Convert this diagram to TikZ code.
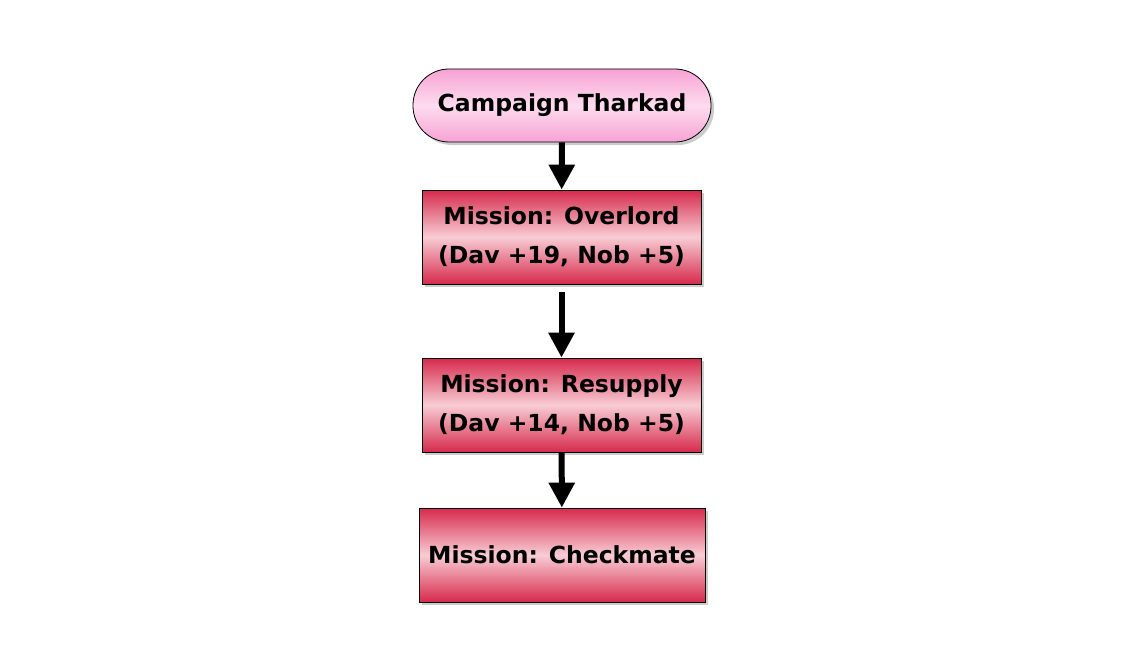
\documentclass[tikz,border=0pt]{standalone}
\usepackage{fontspec}
\setmainfont{DejaVu Sans}
\usetikzlibrary{arrows.meta,shadows}
\definecolor{boxdark}{HTML}{D62A4C}
\definecolor{boxlight}{HTML}{F8CCD4}
\definecolor{pinkdark}{HTML}{F7A2D4}
\definecolor{pinklight}{HTML}{FDDCEE}
\tikzset{
  txt/.style={font=\fontsize{23.5}{39}\selectfont\bfseries, align=center, text=black},
  missionbox/.style={txt, draw=black, line width=0.8pt, rectangle, minimum height=94pt, inner sep=2pt,
    top color=boxdark, bottom color=boxdark, middle color=boxlight,
    drop shadow={shadow xshift=3pt, shadow yshift=-3pt, opacity=0.2, fill=black}},
  termbox/.style={txt, draw=black, line width=0.8pt, rounded corners=36pt, minimum height=73pt, minimum width=298pt, inner sep=2pt,
    top color=pinkdark, bottom color=pinkdark, middle color=pinklight,
    drop shadow={shadow xshift=3pt, shadow yshift=-3pt, opacity=0.2, fill=black}},
  flow/.style={-{Triangle[width=25pt,length=25pt]}, line width=6pt, black}
}
\begin{document}
\begin{tikzpicture}[x=1pt,y=-1pt]
\useasboundingbox (0,0) rectangle (1123,666);
\fill[white] (0,0) rectangle (1123,666);
\node[termbox] (start) at (562,105.5) {Campaign Tharkad};
\node[missionbox, minimum width=279pt] (m1) at (561.5,237) {Mission: Overlord\\(Dav +19, Nob +5)};
\node[missionbox, minimum width=279pt] (m2) at (561.5,405) {Mission: Resupply\\(Dav +14, Nob +5)};
\node[missionbox, minimum width=286pt] (m3) at (562,555) {Mission: Checkmate};
\draw[flow] (start) -- (m1);
\draw[flow, shorten <=8pt] (m1) -- (m2);
\draw[flow] (m2) -- (m3);
\end{tikzpicture}
\end{document}
